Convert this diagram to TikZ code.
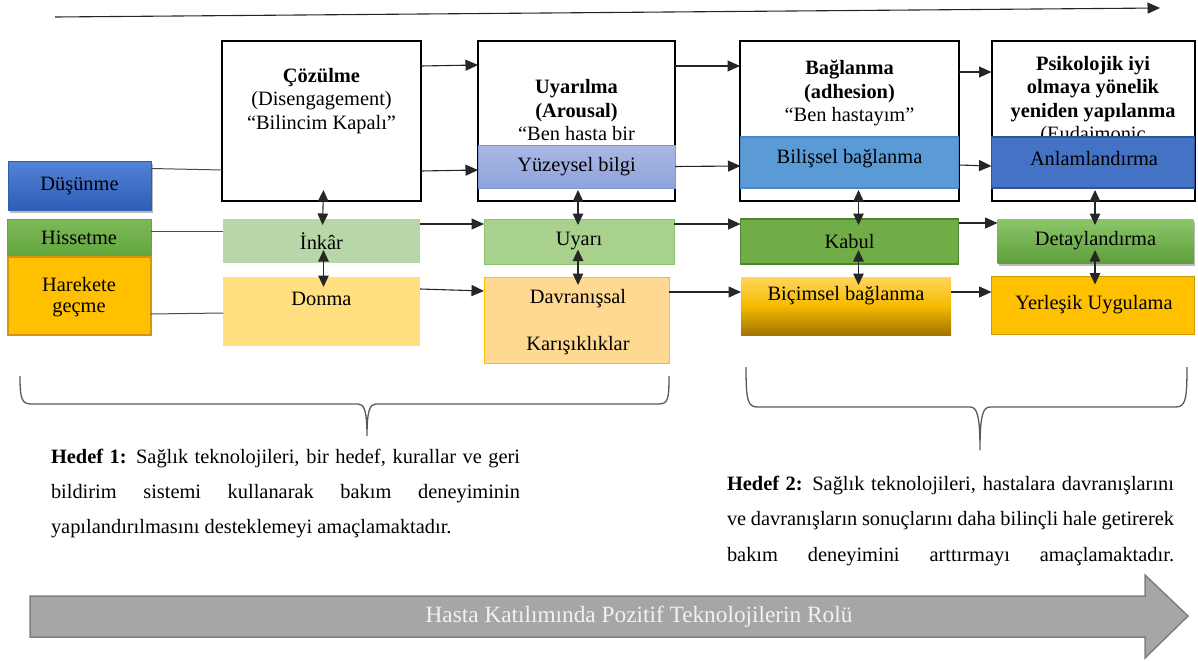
\documentclass[tikz,border=0pt]{standalone}
\usepackage{fontspec}
\setmainfont{Liberation Serif}
\usetikzlibrary{arrows.meta,shadows}
\definecolor{dusA}{HTML}{5283D6}
\definecolor{dusB}{HTML}{2F5EB6}
\definecolor{hisA}{HTML}{7DBA58}
\definecolor{hisB}{HTML}{62A53D}
\definecolor{harF}{HTML}{FFC000}
\definecolor{harD}{HTML}{D9940E}
\definecolor{inkF}{HTML}{B7D7A8}
\definecolor{donF}{HTML}{FFDF80}
\definecolor{yuzA}{HTML}{AAB9E4}
\definecolor{yuzB}{HTML}{8FA3D9}
\definecolor{yuzD}{HTML}{7F95D1}
\definecolor{uyaF}{HTML}{A9D18E}
\definecolor{uyaD}{HTML}{8CC46E}
\definecolor{davF}{HTML}{FFD891}
\definecolor{davD}{HTML}{FFC000}
\definecolor{bilF}{HTML}{5B9BD5}
\definecolor{bilD}{HTML}{4A89C6}
\definecolor{kabF}{HTML}{70AD47}
\definecolor{kabD}{HTML}{548235}
\definecolor{bicA}{HTML}{FFD65C}
\definecolor{bicM}{HTML}{F5BA00}
\definecolor{bicB}{HTML}{A07400}
\definecolor{anlF}{HTML}{4472C4}
\definecolor{anlD}{HTML}{2F5597}
\definecolor{detA}{HTML}{8CC66A}
\definecolor{detB}{HTML}{5E9F3B}
\definecolor{yerF}{HTML}{FFC000}
\definecolor{yerD}{HTML}{CC9A00}
\definecolor{arrF}{HTML}{A6A6A6}
\definecolor{arrD}{HTML}{7F7F7F}
\definecolor{brc}{HTML}{595959}
\begin{document}
\begin{tikzpicture}[x=1pt,y=-1pt,
  every node/.style={font=\fontsize{20.4}{23.5}\selectfont, inner sep=0pt, outer sep=0pt, align=center},
  bigbox/.style={draw=black, line width=2pt, fill=white},
  cbox/.style={rectangle, line width=1pt},
  shad/.style={drop shadow={shadow xshift=1.5pt, shadow yshift=-3pt, fill=black!45, opacity=0.6}},
  conn/.style={line width=1.1pt, draw=black!85, -{Triangle[length=12.5pt,width=11pt]}},
  dbl/.style={line width=1.1pt, draw=black!85, {Triangle[length=11.5pt,width=10.5pt]}-{Triangle[length=11.5pt,width=10.5pt]}},
  plainln/.style={line width=1pt, draw=black!70},
  brace/.style={line width=1.3pt, draw=brc}
]
\useasboundingbox (0,0) rectangle (1198,661);

% top arrow
\coordinate (ts) at (55,17);
\coordinate (te) at (1160,8);
\draw[conn] (ts) -- (te);

% big stage boxes
\node[bigbox, minimum width=199pt, minimum height=160pt] (coz) at (321.5,121) {};
\node (cozt) at (321.5,101) {\textbf{Çözülme}\\(Disengagement)\\“Bilincim Kapalı”};
\node[bigbox, minimum width=197pt, minimum height=160pt] (uya) at (576.5,121) {};
\node (uyat) at (576.5,110.5) {\textbf{Uyarılma}\\\textbf{(Arousal)}\\“Ben hasta bir};
\node[bigbox, minimum width=219pt, minimum height=160pt] (bag) at (849.5,121) {};
\node (bagt) at (849.5,93.5) {\textbf{Bağlanma}\\\textbf{(adhesion)}\\“Ben hastayım”};
\node[bigbox, minimum width=203pt, minimum height=160pt] (psi) at (1093,121) {};
\node (psit) at (1093,100.5) {\textbf{Psikolojik iyi}\\\textbf{olmaya yönelik}\\\textbf{yeniden yapılanma}\\(Eudaimonic};

% left boxes
\node[cbox, shad, top color=dusA, bottom color=dusB, draw=dusB, minimum width=143pt, minimum height=49pt] (dus) at (79.5,185.5) {\raisebox{4pt}{Düşünme}};
\node[cbox, top color=hisA, bottom color=hisB, draw=hisB, minimum width=144pt, minimum height=37pt] (his) at (79,237.5) {Hissetme};
\node[cbox, fill=harF, draw=harD, line width=2pt, minimum width=143pt, minimum height=78pt] (har) at (79,295.5) {};
\node (hart) at (79,297) {Harekete\\[-2pt]geçme};

% column 1
\node[cbox, fill=inkF, minimum width=197pt, minimum height=44pt] (inkar) at (321.5,241) {İnkâr};
\node[cbox, fill=donF, minimum width=197pt, minimum height=69pt] (donma) at (321.5,311.5) {};
\node (donmat) at (321.5,299) {Donma};

% column 2
\node[cbox, top color=yuzA, bottom color=yuzB, draw=yuzD, minimum width=197pt, minimum height=43pt] (yuz) at (576.5,166.5) {Yüzeysel bilgi};
\node[cbox, fill=uyaF, draw=uyaD, minimum width=190pt, minimum height=45pt] (uyari) at (579,241.5) {Uyarı};
\node[cbox, fill=davF, draw=davD, minimum width=185pt, minimum height=86pt] (davr) at (576.5,320) {};
\node (davrt) at (578,322) {Davranışsal\\[24pt]Karışıklıklar};

% column 3
\node[cbox, fill=bilF, draw=bilD, line width=1.5pt, minimum width=218pt, minimum height=51pt] (bil) at (849.5,162.5) {};
\node (bilt) at (849.5,159) {Bilişsel bağlanma};
\node[cbox, fill=kabF, draw=kabD, line width=1.5pt, minimum width=218pt, minimum height=45pt] (kabul) at (849.5,241.5) {Kabul};
\node[cbox, top color=bicA, bottom color=bicB, middle color=bicM, minimum width=210pt, minimum height=58pt] (bic) at (846,306) {};
\node (bict) at (846,296) {Biçimsel bağlanma};

% column 4
\node[cbox, fill=anlF, draw=anlD, line width=1.5pt, minimum width=203pt, minimum height=51pt] (anl) at (1093,162.5) {};
\node (anlt) at (1094,159) {Anlamlandırma};
\node[cbox, shad, top color=detA, bottom color=detB, minimum width=196pt, minimum height=44pt] (det) at (1095.5,241) {Detaylandırma};
\node[cbox, fill=yerF, draw=yerD, line width=1.5pt, minimum width=203pt, minimum height=58pt] (yer) at (1093,305.5) {};
\node (yert) at (1094,305) {Yerleşik Uygulama};

% plain lines from left boxes
\draw[plainln] ([yshift=17pt]dus.east) -- ([yshift=-49pt]coz.west);
\draw[plainln] ([yshift=6.5pt]his.east) -- ([yshift=10pt]inkar.west);
\draw[plainln] ([yshift=-18.5pt]har.east) -- ([yshift=-1.5pt]donma.west);

% horizontal arrows
\draw[conn] ([yshift=55pt]coz.east) -- ([yshift=56pt]uya.west);
\draw[conn] ([yshift=-50pt]coz.east) -- ([yshift=-3.5pt]yuz.west);
\draw[conn] ([yshift=17pt]inkar.east) -- ([yshift=17.5pt]uyari.west);
\draw[conn] ([yshift=22.5pt]donma.east) -- ([yshift=29pt]davr.west);
\draw[conn] ([yshift=55pt]uya.east) -- ([yshift=55pt]bag.west);
\draw[conn] (yuz.east) -- ([yshift=-3.5pt]bil.west);
\draw[conn] ([yshift=17.5pt]uyari.east) -- ([yshift=17.5pt]kabul.west);
\draw[conn] ([yshift=28pt]davr.east) -- ([yshift=14pt]bic.west);
\draw[conn] ([yshift=49pt]bag.east) -- ([yshift=49pt]psi.west);
\draw[conn] ([yshift=-2.5pt]bil.east) -- ([yshift=-3.5pt]anl.west);
\draw[conn] ([yshift=18.5pt]kabul.east) -- ([yshift=18pt]det.west);
\draw[conn] ([yshift=14pt]bic.east) -- ([yshift=13.5pt]yer.west);

% vertical double arrows
\draw[dbl] ([xshift=2pt,yshift=11pt]coz.south) -- ([xshift=1pt,yshift=-6pt]inkar.north);
\draw[dbl] ([xshift=2pt,yshift=13pt]inkar.south) -- ([xshift=2pt,yshift=-10pt]donma.north);
\draw[dbl] ([xshift=1.5pt,yshift=-2pt]yuz.south) -- ([xshift=-1pt,yshift=-6pt]uyari.north);
\draw[dbl] ([xshift=-1pt,yshift=14.5pt]uyari.south) -- ([xshift=1.5pt,yshift=-8pt]davr.north);
\draw[dbl] ([xshift=9pt,yshift=-2pt]bil.south) -- ([xshift=9pt,yshift=-6pt]kabul.north);
\draw[dbl] ([xshift=9pt,yshift=14pt]kabul.south) -- ([xshift=12.5pt,yshift=-8pt]bic.north);
\draw[dbl] ([xshift=2pt,yshift=-2pt]anl.south) -- ([xshift=-0.5pt,yshift=-6pt]det.north);
\draw[dbl] ([xshift=-0.5pt,yshift=13pt]det.south) -- ([xshift=2pt,yshift=-8pt]yer.north);

% braces
\draw[brace] (20,376) .. controls (20,400) and (22,404) .. (32,404) -- (358,404)
  .. controls (364,404) and (367,410) .. (367,436)
  .. controls (367,410) and (370,404) .. (376,404) -- (658,404)
  .. controls (668,404) and (669,400) .. (669,376);
\draw[brace] (746,367) .. controls (746,402) and (748,407) .. (758,407) -- (970,407)
  .. controls (977,407) and (980,415) .. (980,450)
  .. controls (980,415) and (983,407) .. (990,407) -- (1175,407)
  .. controls (1185,407) and (1187,402) .. (1187,367);

% goal texts
\node[anchor=north west, align=left, font=\fontsize{20.4}{35}\selectfont] (h1) at (51,449)
 {\makebox[469pt][s]{\textbf{Hedef 1:} Sağlık teknolojileri, bir hedef, kurallar ve geri}\\
  \makebox[469pt][s]{bildirim sistemi kullanarak bakım deneyiminin}\\
  yapılandırılmasını desteklemeyi amaçlamaktadır.};
\node[anchor=north west, align=left, font=\fontsize{20.4}{35.5}\selectfont] (h2) at (727,476)
 {\makebox[447pt][s]{\textbf{Hedef 2:} Sağlık teknolojileri, hastalara davranışlarını}\\
  \makebox[447pt][s]{ve davranışların sonuçlarını daha bilinçli hale getirerek}\\
  \makebox[447pt][s]{bakım deneyimini arttırmayı amaçlamaktadır.}};

% bottom big arrow
\draw[fill=arrF, draw=arrD, line width=1.5pt] (30,596) -- (1145,596) -- (1145,575) -- (1188,616)
  -- (1145,658) -- (1145,637) -- (30,637) -- cycle;
\node[text=white!95!black, font=\fontsize{23.3}{26}\selectfont] (role) at (639,617) {Hasta Katılımında Pozitif Teknolojilerin Rolü};
\end{tikzpicture}
\end{document}
